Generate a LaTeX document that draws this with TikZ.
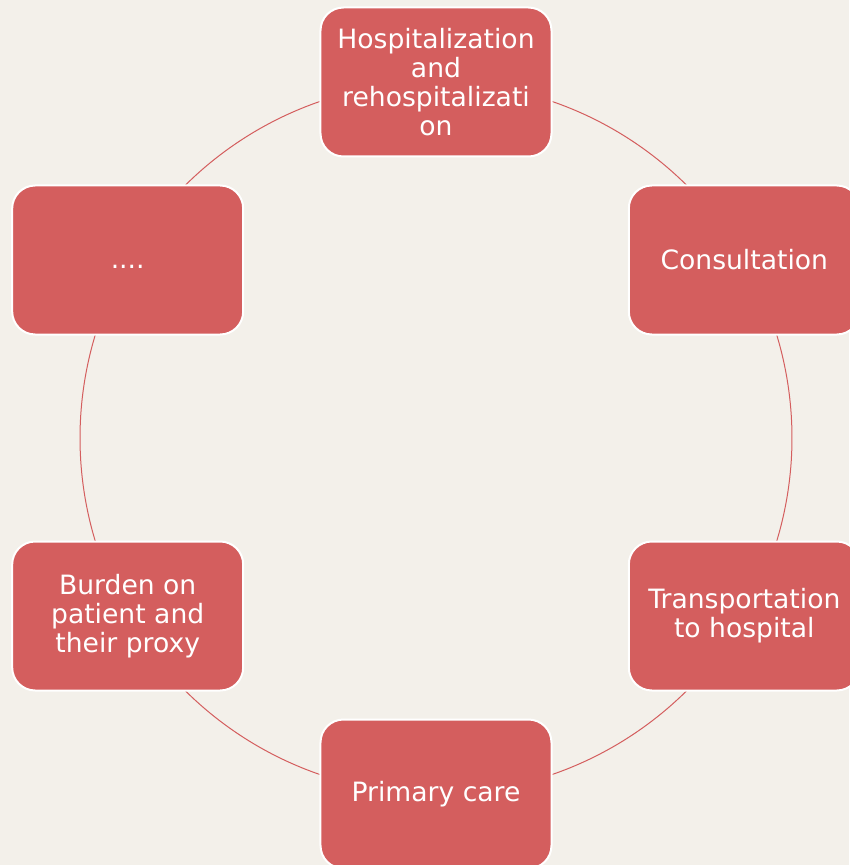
\documentclass[tikz,border=0pt]{standalone}
\usepackage{fontspec}
\setmainfont{DejaVu Sans}
\definecolor{bgc}{RGB}{243,240,234}
\definecolor{boxred}{RGB}{212,94,94}
\tikzset{
  cyclebox/.style={draw=white, line width=2pt, fill=boxred, rounded corners=23pt,
    minimum width=231pt, minimum height=149pt, text=white, align=center,
    font=\fontsize{26.6pt}{29pt}\selectfont, inner sep=2pt},
  cyclearc/.style={draw=boxred, line width=1pt}
}
\begin{document}
\begin{tikzpicture}[x=1pt,y=1pt]
\fill[bgc] (-436,-427) rectangle (413,438);
\useasboundingbox (-436,-427) rectangle (413,438);
% arc end points where the circle meets the box borders
\coordinate (hr) at (70.98:356);
\coordinate (ct) at (45.29:356);
\coordinate (cb) at (16.82:356);
\coordinate (tt) at (-16.82:356);
\coordinate (tb) at (-45.29:356);
\coordinate (pr) at (-70.98:356);
\coordinate (pl) at (-109.02:356);
\coordinate (bb) at (-134.71:356);
\coordinate (bt) at (-163.18:356);
\coordinate (db) at (163.18:356);
\coordinate (dt) at (134.71:356);
\coordinate (hl) at (109.02:356);
\draw[cyclearc] (hr) arc[start angle=70.98, end angle=45.29, radius=356];
\draw[cyclearc] (cb) arc[start angle=16.82, end angle=-16.82, radius=356];
\draw[cyclearc] (tb) arc[start angle=-45.29, end angle=-70.98, radius=356];
\draw[cyclearc] (pl) arc[start angle=-109.02, end angle=-134.71, radius=356];
\draw[cyclearc] (bt) arc[start angle=-163.18, end angle=-196.82, radius=356];
\draw[cyclearc] (dt) arc[start angle=134.71, end angle=109.02, radius=356];
\node[cyclebox] (hosp) at (90:356) {Hospitalization\\and\\rehospitalizati\\on};
\node[cyclebox] (cons) at (30:356) {Consultation};
\node[cyclebox] (trans) at (-30:356) {Transportation\\to hospital};
\node[cyclebox] (prim) at (-90:356) {Primary care};
\node[cyclebox] (burd) at (210:356) {Burden on\\patient and\\their proxy};
\node[cyclebox, align=none, text height=17pt, text depth=0pt] (dots) at (150:356) {....};
\end{tikzpicture}
\end{document}
